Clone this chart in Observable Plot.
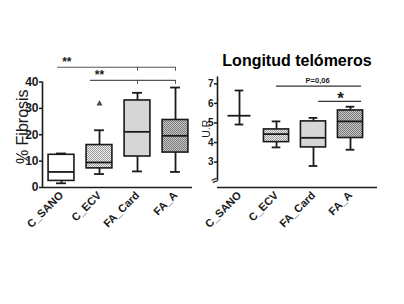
<!DOCTYPE html>
<html>
<head>
<meta charset="utf-8">
<script src="https://cdn.jsdelivr.net/npm/d3@7"></script>
<script src="https://cdn.jsdelivr.net/npm/@observablehq/plot@0.6"></script>
<style>
  html, body { margin: 0; padding: 0; background: #fff; }
  #left { position: absolute; left: 0; top: 0; }
  #right { position: absolute; left: 200px; top: 0; }
  #title { position: absolute; left: 197px; width: 200px; top: 53px; text-align: center; font: bold 16px/16px "Liberation Sans", Arial, sans-serif; color: #000; }
</style>
</head>
<body>
<div id="left"></div>
<div id="right"></div>
<div id="title">Longitud telómeros</div>
<script>
// ---- data ----
const categories = ["C_SANO", "C_ECV", "FA_Card", "FA_A"];

// % Fibrosis box plots
const fibMin = [1.6, 5.1, 6.1, 5.9];
const fibQ1  = [2.5, 7.25, 11.75, 13.25];
const fibMed = [5.9, 9.5, 21.1, 19.6];
const fibQ3  = [12.4, 16.1, 33.0, 25.6];
const fibMax = [12.9, 21.7, 35.9, 37.9];
const fibOutlierCat = ["C_ECV"];
const fibOutlierVal = [31.75];
const fibTicks = [0, 10, 20, 30, 40];

// Telomere length (U.R.)
const telMin = [4.92, 3.75, 2.80, 3.63];
const telQ1  = [null, 4.02, 3.75, 4.23];
const telMed = [5.37, 4.43, 4.24, 5.08];
const telQ3  = [null, 4.67, 5.08, 5.64];
const telMax = [6.66, 5.08, 5.26, 5.83];
const telTicks = [3, 4, 5, 6, 7];

// significance annotations
const fibSigFrom = [-0.1, 0.76];
const fibSigTo = [3, 3];
const fibSigY = [45.6, 40.6];
const fibSigLabel = ["**", "**"];
const fibSigTickAt = [2, 3];

const telSigFrom = [1.0, 2.14];
const telSigTo = [3.3, 3.3];
const telSigY = [6.88, 6.1];
const telSigLabel = ["P=0,06", "*"];

// ---- styles ----
const fillOf = {C_SANO: "white", C_ECV: "url(#hatchLight)", FA_Card: "#d6d6d6", FA_A: "url(#hatchDark)"};
const ink = "#1a1a1a";
const FONT = "Liberation Sans, Arial, sans-serif";
const BOX = 0.34, CAP = 0.13;

function addPatterns(svg, suffix) {
  const defs = d3.select(svg).insert("defs", ":first-child");
  [["hatchLight", "#efefef", "#9a9a9a"], ["hatchDark", "#c4c4c4", "#7c7c7c"]].forEach(([id, bg, fg]) => {
    const p = defs.append("pattern").attr("id", id + suffix).attr("width", 2).attr("height", 2).attr("patternUnits", "userSpaceOnUse");
    p.append("rect").attr("width", 2).attr("height", 2).attr("fill", bg);
    p.append("rect").attr("width", 1).attr("height", 1).attr("fill", fg);
    p.append("rect").attr("x", 1).attr("y", 1).attr("width", 1).attr("height", 1).attr("fill", fg);
  });
}
const fillFor = suffix => d => fillOf[d.cat].replace(")", suffix + ")");

function rows(mins, q1s, meds, q3s, maxs) {
  return categories.map((c, i) => ({cat: c, i, min: mins[i], q1: q1s[i], med: meds[i], q3: q3s[i], max: maxs[i]}));
}

// ---- left: % Fibrosis ----
const fib = rows(fibMin, fibQ1, fibMed, fibQ3, fibMax);
const fibOut = fibOutlierCat.map((c, k) => ({i: categories.indexOf(c), v: fibOutlierVal[k]}));
const fibSig = fibSigY.map((y, k) => ({x1: fibSigFrom[k], x2: fibSigTo[k], y, label: fibSigLabel[k]}));
const fibSigTicks = fibSig.flatMap(s => fibSigTickAt.map(t => ({x: t, y1: s.y, y2: s.y - 1.5})));

const left = Plot.plot({
  width: 200, height: 304,
  marginLeft: 42, marginRight: 8, marginTop: 81.5, marginBottom: 117,
  style: {fontFamily: FONT},
  x: {domain: [-0.5, 3.447]},
  y: {domain: [0, 40]},
  color: {type: "identity"},
  marks: [
    Plot.axisY(fibTicks, {tickSize: 3, tickPadding: 1, fontSize: 12, fontWeight: "bold", stroke: ink, strokeWidth: 1.5, fill: ink, label: null}),
    Plot.axisX(categories.map((c, i) => i), {tickFormat: i => categories[i], tickRotate: -45, tickSize: 0, tickPadding: 6, fontSize: 11, fontWeight: "bold", fill: ink, label: null}),
    Plot.text(["% Fibrosis"], {frameAnchor: "left", textAnchor: "middle", dx: -20, dy: -8, rotate: -90, fontSize: 16, fill: ink}),
    Plot.ruleX(fib, {x: "i", y1: "min", y2: "q1", stroke: ink, strokeWidth: 1.8}),
    Plot.ruleX(fib, {x: "i", y1: "q3", y2: "max", stroke: ink, strokeWidth: 1.8}),
    Plot.ruleY(fib, {y: "min", x1: d => d.i - CAP, x2: d => d.i + CAP, stroke: ink, strokeWidth: 1.8}),
    Plot.ruleY(fib, {y: "max", x1: d => d.i - CAP, x2: d => d.i + CAP, stroke: ink, strokeWidth: 1.8}),
    Plot.rect(fib, {x1: d => d.i - BOX, x2: d => d.i + BOX, y1: "q1", y2: "q3", fill: fillFor("L"), stroke: ink, strokeWidth: 1.6}),
    Plot.ruleY(fib, {y: "med", x1: d => d.i - BOX, x2: d => d.i + BOX, stroke: ink, strokeWidth: 1.8}),
    Plot.dot(fibOut, {x: "i", y: "v", symbol: "triangle", r: 2.2, fill: "#444", stroke: "none"}),
    Plot.ruleX([-0.5], {y1: 0, y2: 40, stroke: ink, strokeWidth: 1.6}),
    Plot.ruleY([0], {stroke: ink, strokeWidth: 1.6}),
    Plot.ruleY(fibSig, {y: "y", x1: "x1", x2: "x2", stroke: "#555", strokeWidth: 1.2}),
    Plot.ruleX(fibSigTicks, {x: "x", y1: "y1", y2: "y2", stroke: "#555", strokeWidth: 1}),
    Plot.text(fibSig, {x: d => d.x1 + 0.24, y: "y", text: "label", dy: -1, lineAnchor: "bottom", fontSize: 12, fontWeight: "bold", fill: ink})
  ]
});
addPatterns(left, "L");
document.getElementById("left").appendChild(left);

// ---- right: telomere length ----
const tel = rows(telMin, telQ1, telMed, telQ3, telMax);
const telBox = tel.filter(d => d.q1 != null);
const telBar = tel.filter(d => d.q1 == null);
const telSig = telSigY.map((y, k) => ({x1: telSigFrom[k], x2: telSigTo[k], y, label: telSigLabel[k]}));

const right = Plot.plot({
  width: 204, height: 304,
  marginLeft: 17, marginRight: 27, marginTop: 76.5, marginBottom: 117,
  style: {fontFamily: FONT},
  x: {domain: [-0.595, 3.73]},
  y: {domain: [1.7, 7.35]},
  color: {type: "identity"},
  marks: [
    Plot.axisY(telTicks, {tickSize: 3, tickPadding: 1, fontSize: 10, fontWeight: "bold", stroke: ink, strokeWidth: 1.5, fill: ink, label: null}),
    Plot.axisX(categories.map((c, i) => i), {tickFormat: i => categories[i], tickRotate: -45, tickSize: 0, tickPadding: 6, fontSize: 11, fontWeight: "bold", fill: ink, label: null}),
    Plot.text(["U.R."], {frameAnchor: "left", textAnchor: "middle", dx: -11, dy: -5, rotate: -90, fontSize: 10.5, fill: ink}),
    Plot.ruleX(tel, {x: "i", y1: "min", y2: d => d.q1 ?? d.max, stroke: ink, strokeWidth: 1.8}),
    Plot.ruleX(telBox, {x: "i", y1: "q3", y2: "max", stroke: ink, strokeWidth: 1.8}),
    Plot.ruleY(tel, {y: "min", x1: d => d.i - CAP * 0.9, x2: d => d.i + CAP * 0.9, stroke: ink, strokeWidth: 1.8}),
    Plot.ruleY(tel, {y: "max", x1: d => d.i - CAP * 0.9, x2: d => d.i + CAP * 0.9, stroke: ink, strokeWidth: 1.8}),
    Plot.rect(telBox, {x1: d => d.i - BOX, x2: d => d.i + BOX, y1: "q1", y2: "q3", fill: fillFor("R"), stroke: ink, strokeWidth: 1.6}),
    Plot.ruleY(telBox, {y: "med", x1: d => d.i - BOX, x2: d => d.i + BOX, stroke: ink, strokeWidth: 1.8}),
    Plot.ruleY(telBar, {y: "med", x1: d => d.i - 0.31, x2: d => d.i + 0.31, stroke: ink, strokeWidth: 1.8}),
    Plot.ruleX([-0.595], {y1: 2.05, y2: 7.35, stroke: ink, strokeWidth: 1.6}),
    Plot.ruleY([1.7], {stroke: ink, strokeWidth: 1.6}),
    Plot.text(["≈"], {frameAnchor: "bottom-left", textAnchor: "middle", dx: -1, dy: -4, rotate: -30, fontSize: 11, fontWeight: "bold", fill: ink}),
    Plot.ruleY(telSig, {y: "y", x1: "x1", x2: "x2", stroke: "#333", strokeWidth: 1.2}),
    Plot.text(telSig.slice(0, 1), {x: 2.11, y: "y", text: "label", dy: -3, lineAnchor: "bottom", fontSize: 7.5, fontWeight: "bold", fill: ink}),
    Plot.text(telSig.slice(1), {x: 2.73, y: "y", text: "label", dy: 3, lineAnchor: "bottom", fontSize: 17, fontWeight: "bold", fill: ink})
  ]
});
addPatterns(right, "R");
document.getElementById("right").appendChild(right);
</script>
</body>
</html>
